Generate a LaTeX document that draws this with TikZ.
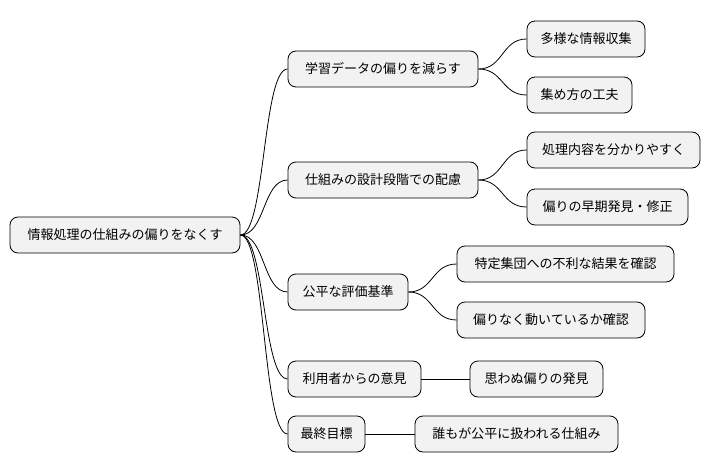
\documentclass[tikz,border=0pt]{standalone}
\usepackage{fontspec}
\setmainfont{Noto Sans CJK JP}
\begin{document}
\begin{tikzpicture}[x=1pt,y=-1pt,
  box/.style={draw=black,line width=0.8pt,fill=gray!10,rounded corners=8pt,minimum height=36pt,inner xsep=10pt,font=\fontsize{13}{15}\selectfont,anchor=center},
  con/.style={draw=black,line width=0.8pt}]
\useasboundingbox (0,0) rectangle (712,471);
\node[box,minimum width=230pt] (r) at (125,235) {情報処理の仕組みの偏りをなくす};
\node[box,minimum width=190pt] (a) at (383,69) {学習データの偏りを減らす};
\node[box,minimum width=118pt] (a1) at (586,39) {多様な情報収集};
\node[box,minimum width=105pt] (a2) at (579.5,95) {集め方の工夫};
\node[box,minimum width=190pt] (b) at (383,180) {仕組みの設計段階での配慮};
\node[box,minimum width=173pt] (b1) at (613.5,150) {処理内容を分かりやすく};
\node[box,minimum width=161pt] (b2) at (607.5,207) {偏りの早期発見・修正};
\node[box,minimum width=120pt] (c) at (348,292) {公平な評価基準};
\node[box,minimum width=217pt] (c1) at (565.5,264) {特定集団への不利な結果を確認};
\node[box,minimum width=188pt] (c2) at (551,320) {偏りなく動いているか確認};
\node[box,minimum width=133pt] (d) at (354.5,379) {利用者からの意見};
\node[box,minimum width=133pt] (d1) at (536.5,379) {思わぬ偏りの発見};
\node[box,minimum width=77pt] (e) at (326.5,434) {最終目標};
\node[box,minimum width=203pt] (e1) at (516.5,434) {誰もが公平に扱われる仕組み};
\foreach \p/\c in {r/a,r/b,r/c,r/d,r/e,a/a1,a/a2,b/b1,b/b2,c/c1,c/c2,d/d1,e/e1}
  \draw[con] (\p.east) .. controls ([xshift=25pt]\p.east) and ([xshift=-25pt]\c.west |- \c.west) .. (\c.west);
\end{tikzpicture}
\end{document}
